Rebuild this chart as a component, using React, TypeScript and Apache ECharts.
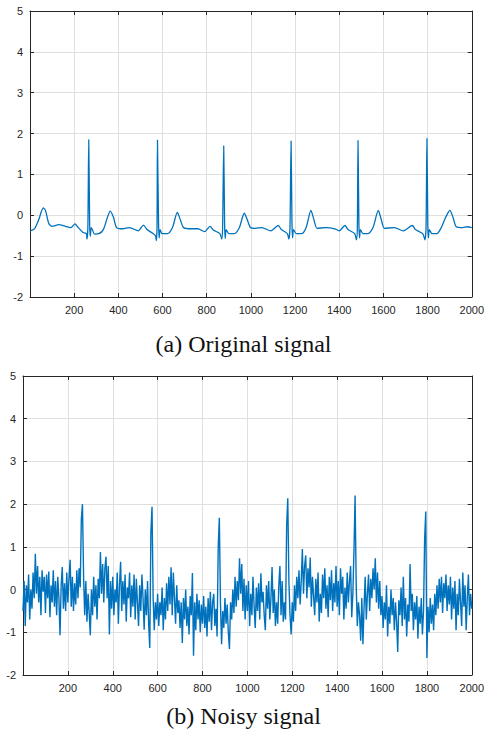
import React, { useEffect, useRef } from "react";
import * as echarts from "echarts";

// Clean ECG (key points): sample index, amplitude
const cleanX = [
  1, 20, 40, 60, 70, 85, 100, 130, 160, 185, 204, 215, 240, 255, 258, 262, 266, 270, 273, 277, 283, 292, 312, 332, 350, 363, 378, 392, 420, 450, 490, 514, 530, 555, 568, 572, 575, 577, 582, 585, 589, 598, 622, 645, 667, 680, 695, 720, 760, 790, 815, 830, 860, 868, 872, 877, 881, 884, 888, 900, 925, 948, 970, 983, 998, 1020, 1050, 1090, 1124, 1138, 1165, 1172, 1177, 1182, 1186, 1189, 1193, 1205, 1230, 1250, 1272, 1285, 1300, 1340, 1380, 1400, 1426, 1440, 1470, 1478, 1482, 1485, 1489, 1492, 1496, 1507, 1530, 1553, 1577, 1590, 1605, 1650, 1690, 1731, 1745, 1778, 1788, 1793, 1797, 1801, 1804, 1808, 1820, 1842, 1862, 1882, 1901, 1915, 1930, 1960, 1980, 2000,
];
const cleanY = [
  -0.38, -0.33, -0.1, 0.18, 0.12, -0.2, -0.27, -0.23, -0.27, -0.3, -0.21, -0.28, -0.42, -0.45, -0.58, -0.3, 1.85, -0.2, -0.52, -0.3, -0.36, -0.46, -0.45, -0.35, -0.06, 0.1, -0.05, -0.3, -0.33, -0.3, -0.38, -0.24, -0.35, -0.44, -0.5, -0.62, -0.3, 1.84, -0.2, -0.55, -0.35, -0.45, -0.45, -0.3, 0.07, -0.1, -0.3, -0.33, -0.33, -0.4, -0.27, -0.36, -0.45, -0.58, -0.3, 1.7, -0.2, -0.57, -0.35, -0.45, -0.45, -0.3, 0.05, -0.1, -0.3, -0.32, -0.3, -0.38, -0.25, -0.35, -0.45, -0.58, -0.3, 1.82, -0.2, -0.55, -0.35, -0.45, -0.45, -0.3, 0.12, -0.1, -0.32, -0.3, -0.33, -0.38, -0.25, -0.35, -0.45, -0.6, -0.3, 1.83, -0.2, -0.55, -0.35, -0.45, -0.45, -0.3, 0.12, -0.1, -0.32, -0.3, -0.38, -0.25, -0.35, -0.45, -0.6, -0.3, 1.88, -0.2, -0.55, -0.35, -0.45, -0.45, -0.3, -0.05, 0.12, -0.05, -0.28, -0.3, -0.28, -0.3,
];

// Noisy signal, read every 5 samples from panel b (index 0..2000)
const noisyStep = 5;
const noisyY = [
  -0.5, 0.2, -0.85, 0.1, -0.3, 0.35, -0.7, 0.0, -0.45, 0.4, -0.2, 0.84, -0.1, 0.55, -0.3, 0.3, -0.6, 0.45, -0.05, 0.3,
  -0.55, 0.35, -0.2, 0.42, -0.65, 0.1, -0.3, 0.45, -0.4, 0.2, -0.6, 0.3, -0.2, -1.07, 0.1, 0.53, -0.45, 0.15, -0.5, 0.4,
  -0.3, 0.25, 0.7, -0.4, 0.3, -0.5, 0.15, -0.35, 0.45, -0.2, 0.5, 0.05, 1.65, 2.0, 0.3, -0.6, 0.2, -0.75, -0.1, -0.55,
  -1.07, 0.0, -0.6, 0.3, -0.4, 0.1, -0.7, 0.25, -0.2, 0.88, -0.1, 0.6, -0.3, 0.5, 0.77, -0.2, 0.55, -1.05, 0.2, -0.45,
  0.3, -0.6, 0.0, -0.3, 0.4, -0.8, 0.1, 0.65, -0.5, 0.2, -0.35, 0.35, -0.75, 0.05, -0.2, 0.4, -0.65, 0.1, -0.4, 0.35,
  -0.7, 0.25, -0.3, -0.85, 0.1, -0.5, 0.35, -0.2, -0.94, 0.0, -0.6, 0.2, -0.8, -1.37, 1.35, 1.94, -0.2, -0.95, -0.3, -0.7,
  -0.1, -0.85, -0.3, -0.6, 0.05, -0.95, -0.2, -0.7, 0.15, -0.5, 0.3, -0.35, 0.52, -0.6, 0.4, -0.2, -0.8, 0.1, -0.55, -0.25,
  -0.9, -0.3, -1.25, -0.2, -0.7, 0.0, -0.85, -0.4, -1.05, -0.15, -0.6, 0.39, -1.55, -0.3, -0.95, -0.1, -0.7, -0.25, -1.0, -0.35,
  -0.8, -0.15, -0.9, -0.4, -1.1, -0.2, -0.75, -0.05, -0.95, -0.3, -0.1, -0.85, -0.45, -1.1, 1.0, 1.68, -0.3, -1.28, -0.5, -0.9,
  -0.2, -0.8, -0.35, -1.0, -1.39, -0.3, -0.7, 0.0, -0.55, 0.3, -0.4, 0.2, -0.25, 0.73, -0.1, 0.6, -0.5, 0.25, -0.7, 0.1,
  -0.5, 0.2, -0.85, -0.1, -0.6, 0.3, -0.4, -0.9, 0.05, -0.5, 0.15, -0.7, 0.38, -0.3, -0.05, -0.6, -0.95, 0.1, -0.45, 0.2,
  -0.7, -0.2, 0.53, -0.55, 0.0, -0.85, -0.3, -0.8, 0.1, 0.55, -0.6, 0.2, -0.75, -0.3, -0.7, 1.5, 2.14, 0.2, -0.6, -1.05,
  -0.3, -0.75, 0.1, -0.5, 0.3, -0.2, 0.45, -0.35, 0.2, 0.95, -0.1, 0.55, 0.8, -0.2, 0.5, 0.05, 0.75, -0.4, 0.3, -0.15,
  -0.6, 0.25, -0.3, 0.4, -0.75, -0.1, -0.55, 0.35, -0.2, 0.5, -0.45, 0.1, -0.65, 0.3, -0.25, 0.45, -0.5, 0.15, -0.3, 0.55,
  -0.4, 0.2, -0.6, 0.5, -0.1, 0.3, -0.7, 0.05, -0.45, 0.4, -0.3, 0.2, 0.55, -0.65, -0.1, 0.9, 2.2, 0.1, -0.85, -0.3,
  -0.6, -1.2, -0.2, -1.28, -0.4, 0.3, -0.7, -0.1, 0.35, -0.5, 0.25, -0.2, 0.5, 0.0, 0.73, -0.3, 0.4, -0.45, 0.2, -0.6,
  -0.15, -0.9, -0.3, -0.7, 0.1, -1.1, -0.4, -0.8, 0.0, -0.6, -0.2, -0.95, -0.3, -0.75, -1.46, -0.25, -0.6, 0.05, -0.85, 0.3,
  -0.7, -0.2, -1.1, -0.35, -0.75, 0.6, -0.5, -0.1, -0.95, -0.3, -0.7, -0.15, -1.15, -0.4, -0.8, -0.2, -1.05, -0.5, 1.2, 1.83,
  -1.6, -0.4, -1.0, -0.2, -0.8, -0.35, -0.95, -0.1, -0.6, 0.1, -0.45, 0.25, -0.3, 0.3, -0.55, 0.15, -0.2, 0.35, -0.5, 0.1,
  -0.35, 0.3, -0.7, 0.05, -0.45, 0.2, -0.95, -0.1, -0.6, 0.25, -0.3, -0.85, 0.4, -0.4, 0.1, -0.95, -0.2, 0.35, -0.6, -0.1,
  -0.45,
];

const xTicks = [200, 400, 600, 800, 1000, 1200, 1400, 1600, 1800, 2000];
const yTicks = [-2, -1, 0, 1, 2, 3, 4, 5];
const captions = ["(a) Original signal", "(b) Noisy signal"];

const LINE = "#0072BD";
const AX = "#262626";
const GRIDC = "#dfdfdf";
const SANS = "Liberation Sans";
const SERIF = "Liberation Serif";

export default function App() {
  const ref = useRef<HTMLDivElement>(null);
  useEffect(() => {
    document.body.style.margin = "0";
    const chart = echarts.init(ref.current!, null, { renderer: "svg" });
    const grids = [
      { left: 30, top: 11, width: 442, height: 286 },
      { left: 23, top: 376, width: 449, height: 299 },
    ];
    const xAxes: any[] = [];
    const yAxes: any[] = [];
    grids.forEach((g, i) => {
      xAxes.push({
        type: "value",
        gridIndex: i,
        min: 0,
        max: 2000,
        interval: 200,
        position: "bottom",
        axisLine: { show: true, onZero: false, lineStyle: { color: AX, width: 1 } },
        axisTick: { show: true, inside: true, length: 4, lineStyle: { color: AX } },
        axisLabel: {
          show: true,
          margin: 7,
          color: AX,
          fontSize: 11,
          fontFamily: SANS,
          formatter: (v: number) => (xTicks.includes(v) ? String(v) : ""),
        },
        splitLine: { show: true, lineStyle: { color: GRIDC, width: 1 } },
      });
      xAxes.push({
        type: "value",
        gridIndex: i,
        min: 0,
        max: 2000,
        interval: 200,
        position: "top",
        axisLine: { show: true, onZero: false, lineStyle: { color: AX, width: 1 } },
        axisTick: { show: true, inside: true, length: 4, lineStyle: { color: AX } },
        axisLabel: { show: false },
        splitLine: { show: false },
      });
      yAxes.push({
        type: "value",
        gridIndex: i,
        min: -2,
        max: 5,
        interval: 1,
        position: "left",
        axisLine: { show: true, onZero: false, lineStyle: { color: AX, width: 1 } },
        axisTick: { show: true, inside: true, length: 4, lineStyle: { color: AX } },
        axisLabel: {
          show: true,
          margin: 7,
          color: AX,
          fontSize: 11,
          fontFamily: SANS,
          formatter: (v: number) => (yTicks.includes(v) ? String(v) : ""),
        },
        splitLine: { show: true, lineStyle: { color: GRIDC, width: 1 } },
      });
      yAxes.push({
        type: "value",
        gridIndex: i,
        min: -2,
        max: 5,
        interval: 1,
        position: "right",
        axisLine: { show: true, onZero: false, lineStyle: { color: AX, width: 1 } },
        axisTick: { show: true, inside: true, length: 4, lineStyle: { color: AX } },
        axisLabel: { show: false },
        splitLine: { show: false },
      });
    });
    const cleanData = cleanX.map((x, i) => [x, cleanY[i]]);
    const noisyData = noisyY.map((y, i) => [i * noisyStep, y]);
    chart.setOption({
      animation: false,
      backgroundColor: "#ffffff",
      title: [
        {
          text: captions[0],
          left: "center",
          top: 332,
          padding: 0,
          textStyle: { color: "#111", fontSize: 24, fontWeight: "normal", fontFamily: SERIF },
        },
        {
          text: captions[1],
          left: "center",
          top: 704,
          padding: 0,
          textStyle: { color: "#111", fontSize: 24, fontWeight: "normal", fontFamily: SERIF },
        },
      ],
      grid: grids.map((g) => ({ ...g, containLabel: false })),
      xAxis: xAxes,
      yAxis: yAxes,
      series: [
        {
          type: "line",
          xAxisIndex: 0,
          yAxisIndex: 0,
          data: cleanData,
          showSymbol: false,
          smooth: 0.25,
          lineStyle: { color: LINE, width: 1.3 },
        },
        {
          type: "line",
          xAxisIndex: 2,
          yAxisIndex: 2,
          data: noisyData,
          showSymbol: false,
          lineStyle: { color: LINE, width: 1.4 },
        },
      ],
    });
    return () => chart.dispose();
  }, []);
  return <div ref={ref} style={{ width: 487, height: 735 }} />;
}
